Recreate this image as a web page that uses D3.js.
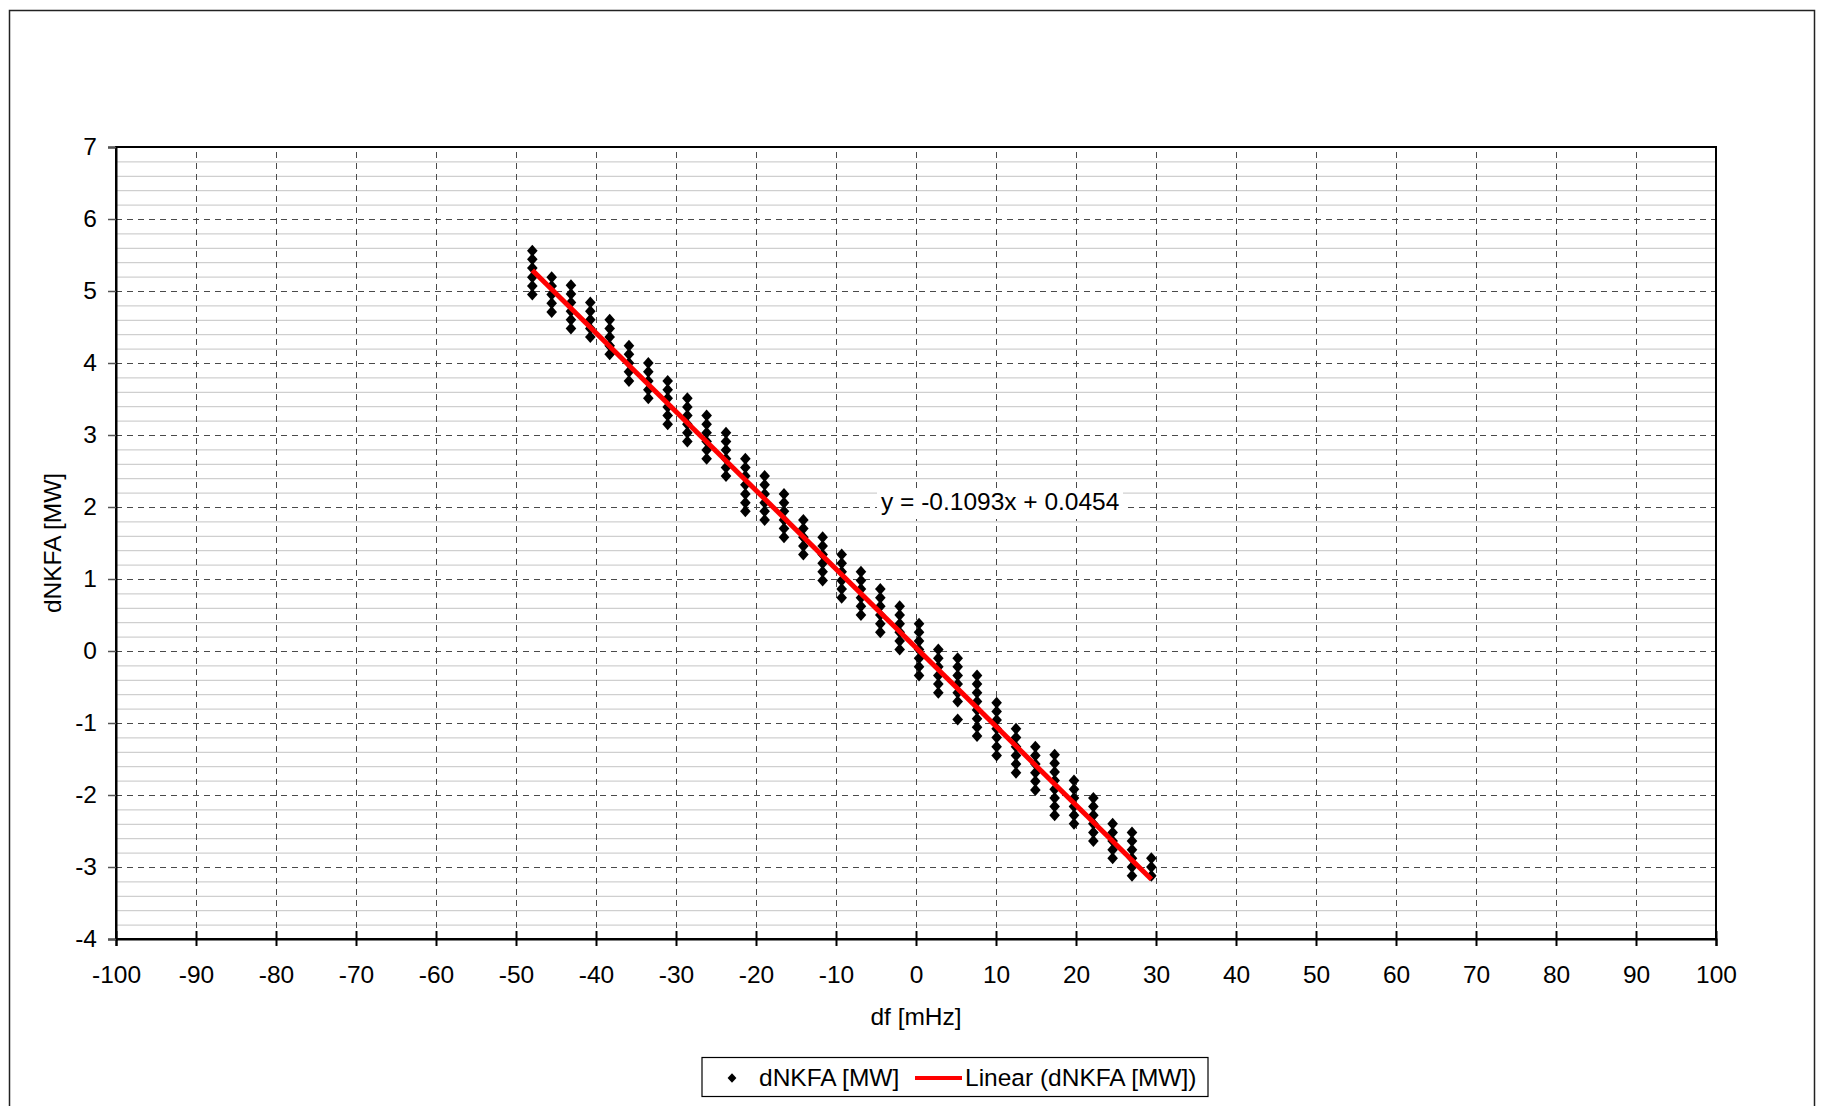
<!DOCTYPE html>
<html>
<head>
<meta charset="utf-8">
<script src="https://cdn.jsdelivr.net/npm/d3@7"></script>
<style>
  html, body { margin: 0; padding: 0; background: #fff; }
  svg { display: block; }
  text { font-family: "Liberation Sans", Arial, sans-serif; fill: #000; }
</style>
</head>
<body>
<script>
// ---------------- data ----------------
const dfValues = [-47.96, -45.54, -43.13, -40.71, -38.29, -35.88, -33.46, -31.04,
  -28.58, -26.17, -23.75, -21.33, -18.92, -16.50, -14.08, -11.67,
  -9.29, -6.88, -4.46, -2.04, 0.38, 2.79, 5.21, 7.63,
  10.08, 12.50, 14.92, 17.33, 19.75, 22.17, 24.58, 27.00, 29.42];

const dnkfaValues = [
  [5.56, 5.44, 5.32, 5.19, 5.07, 4.95],
  [5.19, 5.07, 4.95, 4.83, 4.71],
  [5.08, 4.96, 4.84, 4.72, 4.60, 4.48],
  [4.84, 4.72, 4.60, 4.48, 4.36],
  [4.60, 4.48, 4.36, 4.24, 4.12],
  [4.24, 4.12, 4.00, 3.88, 3.75],
  [4.00, 3.88, 3.75, 3.63, 3.51],
  [3.75, 3.63, 3.51, 3.39, 3.27, 3.15],
  [3.51, 3.39, 3.27, 3.15, 3.03, 2.91],
  [3.27, 3.15, 3.03, 2.91, 2.79, 2.67],
  [3.03, 2.91, 2.79, 2.67, 2.55, 2.43],
  [2.67, 2.55, 2.43, 2.31, 2.18, 2.06, 1.94],
  [2.43, 2.31, 2.18, 2.06, 1.94, 1.82],
  [2.18, 2.06, 1.94, 1.82, 1.70, 1.58],
  [1.82, 1.70, 1.58, 1.46, 1.34],
  [1.58, 1.46, 1.34, 1.22, 1.10, 0.98],
  [1.34, 1.22, 1.10, 0.98, 0.86, 0.74],
  [1.10, 0.98, 0.86, 0.74, 0.62, 0.50],
  [0.86, 0.74, 0.62, 0.50, 0.38, 0.26],
  [0.62, 0.50, 0.38, 0.26, 0.14, 0.02],
  [0.38, 0.26, 0.14, 0.02, -0.10, -0.22, -0.34],
  [0.02, -0.10, -0.22, -0.34, -0.46, -0.58],
  [-0.10, -0.22, -0.34, -0.46, -0.58, -0.70, -0.95],
  [-0.34, -0.46, -0.58, -0.70, -0.82, -0.94, -1.06, -1.18],
  [-0.72, -0.84, -0.96, -1.08, -1.20, -1.33, -1.45],
  [-1.08, -1.20, -1.33, -1.45, -1.57, -1.69],
  [-1.33, -1.45, -1.57, -1.69, -1.81, -1.93],
  [-1.44, -1.56, -1.68, -1.80, -1.92, -2.04, -2.16, -2.28],
  [-1.80, -1.92, -2.04, -2.16, -2.28, -2.40],
  [-2.04, -2.16, -2.28, -2.40, -2.52, -2.64],
  [-2.40, -2.52, -2.64, -2.76, -2.88],
  [-2.52, -2.64, -2.76, -2.88, -3.00, -3.12],
  [-2.88, -3.00, -3.12]
];

const trendSlope = -0.1093;
const trendIntercept = 0.0454;
const trendLabel = "y = -0.1093x + 0.0454";

const xTicks = [-100, -90, -80, -70, -60, -50, -40, -30, -20, -10, 0, 10, 20, 30, 40, 50, 60, 70, 80, 90, 100];
const yTicks = [-4, -3, -2, -1, 0, 1, 2, 3, 4, 5, 6, 7];
const yMinorTicks = d3.range(-40, 71, 2).filter(v => v % 10 !== 0).map(v => v / 10);

const xTitle = "df [mHz]";
const yTitle = "dNKFA [MW]";
const seriesName = "dNKFA [MW]";
const trendName = "Linear (dNKFA [MW])";

// ---------------- layout ----------------
const W = 1825, H = 1106;
const P = { left: 116, right: 1716, top: 147, bottom: 939 };
const FS = 24.5;
const fmt = d => String(d);

const svg = d3.select("body").append("svg").attr("width", W).attr("height", H);

// outer chart frame
svg.append("rect").attr("x", 9.5).attr("y", 10.5).attr("width", 1805).attr("height", 1130)
  .attr("fill", "#fff").attr("stroke", "#222").attr("stroke-width", 1.5);

const x = d3.scaleLinear().domain([-100, 100]).range([P.left, P.right]);
const y = d3.scaleLinear().domain([-4, 7]).range([P.bottom, P.top]);
const pw = P.right - P.left, ph = P.bottom - P.top;

// minor horizontal gridlines
svg.append("g").attr("transform", `translate(${P.left},0)`)
  .call(d3.axisLeft(y).tickValues(yMinorTicks).tickSize(-pw).tickFormat(""))
  .call(g => g.select(".domain").remove())
  .call(g => g.selectAll("line").attr("stroke", "#c4c4c4").attr("stroke-width", 1));

// major horizontal dashed gridlines
svg.append("g").attr("transform", `translate(${P.left},0)`)
  .call(d3.axisLeft(y).tickValues(yTicks.slice(1, -1)).tickSize(-pw).tickFormat(""))
  .call(g => g.select(".domain").remove())
  .call(g => g.selectAll("line").attr("stroke", "#4a4a4a").attr("stroke-width", 1).attr("stroke-dasharray", "6,5"));

// vertical dashed gridlines
svg.append("g").attr("transform", `translate(0,${P.bottom})`)
  .call(d3.axisBottom(x).tickValues(xTicks.slice(1, -1)).tickSize(-ph).tickFormat(""))
  .call(g => g.select(".domain").remove())
  .call(g => g.selectAll("line").attr("stroke", "#4a4a4a").attr("stroke-width", 1).attr("stroke-dasharray", "6,5"));

// trendline label background
const lblX = 881, lblY = 510;
svg.append("rect").attr("x", 877).attr("y", 489).attr("width", 246).attr("height", 30).attr("fill", "#fff");

// data points
const diamond = "M0,-6L5.3,0L0,6L-5.3,0Z";
const points = [];
dfValues.forEach((dx, i) => dnkfaValues[i].forEach(v => points.push({ x: dx, y: v })));
svg.append("g").selectAll("path").data(points).join("path")
  .attr("d", diamond)
  .attr("transform", d => `translate(${x(d.x)},${y(d.y)})`)
  .attr("fill", "#000");

// trendline
const xMin = d3.min(dfValues), xMax = d3.max(dfValues);
svg.append("line")
  .attr("x1", x(xMin)).attr("y1", y(trendSlope * xMin + trendIntercept))
  .attr("x2", x(xMax)).attr("y2", y(trendSlope * xMax + trendIntercept))
  .attr("stroke", "#ff0000").attr("stroke-width", 5);

svg.append("text").attr("x", lblX).attr("y", lblY).attr("font-size", FS).text(trendLabel);

// plot frame
svg.append("rect").attr("x", P.left).attr("y", P.top).attr("width", pw).attr("height", ph)
  .attr("fill", "none").attr("stroke", "#000").attr("stroke-width", 2);

// x axis
svg.append("g").attr("transform", `translate(0,${P.bottom})`)
  .call(d3.axisBottom(x).tickValues(xTicks).tickSize(7).tickPadding(20).tickFormat(fmt))
  .call(g => g.select(".domain").attr("stroke", "#000").attr("stroke-width", 2))
  .call(g => g.selectAll(".tick line").attr("y1", -8).attr("stroke", "#000").attr("stroke-width", 2))
  .call(g => g.selectAll("text").attr("font-size", FS).attr("font-family", "Liberation Sans, Arial, sans-serif").attr("fill", "#000"));

// y axis
svg.append("g").attr("transform", `translate(${P.left},0)`)
  .call(d3.axisLeft(y).tickValues(yTicks).tickSize(8).tickPadding(11).tickFormat(fmt))
  .call(g => g.select(".domain").attr("stroke", "#000").attr("stroke-width", 2))
  .call(g => g.selectAll(".tick line").attr("stroke", "#555").attr("stroke-width", 1.5))
  .call(g => g.selectAll("text").attr("font-size", FS).attr("font-family", "Liberation Sans, Arial, sans-serif").attr("fill", "#000"));

// axis titles
svg.append("text").attr("x", (P.left + P.right) / 2).attr("y", 1025)
  .attr("text-anchor", "middle").attr("font-size", FS).text(xTitle);
svg.append("text").attr("transform", `translate(61,${(P.top + P.bottom) / 2}) rotate(-90)`)
  .attr("text-anchor", "middle").attr("font-size", FS).text(yTitle);

// legend
const lg = svg.append("g");
lg.append("rect").attr("x", 702).attr("y", 1057.5).attr("width", 506).attr("height", 39)
  .attr("fill", "#fff").attr("stroke", "#000").attr("stroke-width", 1.2);
lg.append("path").attr("d", "M0,-4.8L4.4,0L0,4.8L-4.4,0Z").attr("transform", "translate(732,1078)").attr("fill", "#000");
lg.append("text").attr("x", 759).attr("y", 1086).attr("font-size", FS).text(seriesName);
lg.append("line").attr("x1", 915).attr("x2", 962).attr("y1", 1078).attr("y2", 1078)
  .attr("stroke", "#ff0000").attr("stroke-width", 4);
lg.append("text").attr("x", 965).attr("y", 1086).attr("font-size", FS).text(trendName);
</script>
</body>
</html>
